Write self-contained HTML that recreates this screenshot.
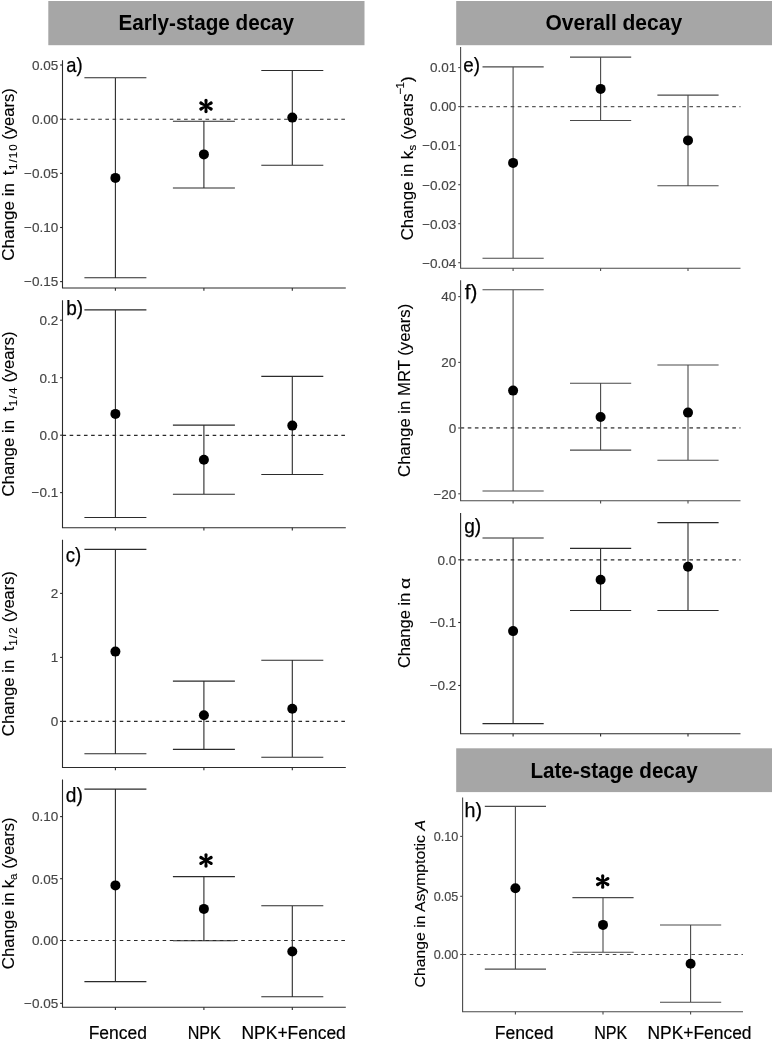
<!DOCTYPE html>
<html><head><meta charset="utf-8"><title>Figure</title>
<style>
html,body{margin:0;padding:0;background:#fff;}
body{width:773px;height:1041px;overflow:hidden;}
svg{display:block;font-family:"Liberation Sans",sans-serif;will-change:transform;}
.tk{font-size:12.6px;fill:#454545;stroke:#454545;stroke-width:0.15px;}
.pl{font-size:19.8px;fill:#000;stroke:#000;stroke-width:0.25px;}
.yt{fill:#000;stroke:#000;stroke-width:0.12px;}
.ast{font-size:30px;font-weight:bold;fill:#000;}
.hd{font-size:22.5px;font-weight:bold;fill:#000;}
.xl{font-size:17.5px;fill:#000;stroke:#000;stroke-width:0.2px;}
</style></head><body>
<svg width="773" height="1041" viewBox="0 0 773 1041">
<rect width="773" height="1041" fill="#fff"/>
<rect x="48.3" y="1" width="316.2" height="44.2" fill="#a6a6a6"/>
<rect x="456.2" y="1" width="315.8" height="44.2" fill="#a6a6a6"/>
<rect x="456.2" y="748.3" width="315.8" height="43.8" fill="#a6a6a6"/>
<text x="118.5" y="30.4" class="hd" textLength="175.6" lengthAdjust="spacingAndGlyphs">Early-stage decay</text>
<text x="545.5" y="30.4" class="hd" textLength="136.6" lengthAdjust="spacingAndGlyphs">Overall decay</text>
<text x="530.4" y="777.5" class="hd" textLength="167.4" lengthAdjust="spacingAndGlyphs">Late-stage decay</text>
<path d="M62.5 60.2V288H345.8" fill="none" stroke="#2b2b2b" stroke-width="1.1"/>
<path d="M60.1 65.0H62.5" stroke="#2b2b2b" stroke-width="1.1"/>
<text x="58.2" y="69.89" text-anchor="end" class="tk" style="font-size:13.5px">0.05</text>
<path d="M60.1 119.2H62.5" stroke="#2b2b2b" stroke-width="1.1"/>
<text x="58.2" y="124.09" text-anchor="end" class="tk" style="font-size:13.5px">0.00</text>
<path d="M60.1 173.4H62.5" stroke="#2b2b2b" stroke-width="1.1"/>
<text x="58.2" y="178.29" text-anchor="end" class="tk" style="font-size:13.5px">−0.05</text>
<path d="M60.1 227.5H62.5" stroke="#2b2b2b" stroke-width="1.1"/>
<text x="58.2" y="232.39" text-anchor="end" class="tk" style="font-size:13.5px">−0.10</text>
<path d="M60.1 281.6H62.5" stroke="#2b2b2b" stroke-width="1.1"/>
<text x="58.2" y="286.49" text-anchor="end" class="tk" style="font-size:13.5px">−0.15</text>
<path d="M115.4 288V290.8" stroke="#2b2b2b" stroke-width="1.1"/>
<path d="M203.9 288V290.8" stroke="#2b2b2b" stroke-width="1.1"/>
<path d="M292.3 288V290.8" stroke="#2b2b2b" stroke-width="1.1"/>
<path d="M62.5 119.2H345.8" stroke="#2b2b2b" stroke-width="1.15" stroke-dasharray="3.6 3.55"/>
<path d="M84.4 77.8H146.4M84.4 277.8H146.4M115.4 77.8V277.8" fill="none" stroke="#2b2b2b" stroke-width="1.1"/>
<circle cx="115.4" cy="177.9" r="5.0" fill="#000"/>
<path d="M172.9 121.2H234.9M172.9 188H234.9M203.9 121.2V188" fill="none" stroke="#2b2b2b" stroke-width="1.1"/>
<circle cx="203.9" cy="154.4" r="5.0" fill="#000"/>
<path d="M261.3 70.5H323.3M261.3 165.2H323.3M292.3 70.5V165.2" fill="none" stroke="#2b2b2b" stroke-width="1.1"/>
<circle cx="292.3" cy="117.6" r="5.0" fill="#000"/>
<text x="66.2" y="72.05" class="pl" textLength="16.3" lengthAdjust="spacingAndGlyphs">a)</text>
<path transform="translate(206.0 106.0)" d="M0.95 0.00L1.65 -5.60L-1.65 -5.60L-0.95 -0.00ZM1.65 -5.60A1.65 1.65 0 0 0 -1.65 -5.60ZM0.47 0.82L5.93 -1.52L4.28 -4.38L-0.47 -0.82ZM5.93 -1.52A1.65 1.65 0 0 0 4.28 -4.38ZM-0.47 0.82L4.28 4.38L5.93 1.52L0.47 -0.82ZM4.28 4.38A1.65 1.65 0 0 0 5.93 1.52ZM-0.95 0.00L-1.65 5.60L1.65 5.60L0.95 -0.00ZM-1.65 5.60A1.65 1.65 0 0 0 1.65 5.60ZM-0.47 -0.82L-5.93 1.52L-4.28 4.38L0.47 0.82ZM-5.93 1.52A1.65 1.65 0 0 0 -4.28 4.38ZM0.47 -0.82L-4.28 -4.38L-5.93 -1.52L-0.47 0.82ZM-4.28 -4.38A1.65 1.65 0 0 0 -5.93 -1.52Z" fill="#000"/>
<text transform="translate(13.7 260.8) scale(1.0 1) rotate(-90)" class="yt" style="font-size:16.9px" textLength="77.7" lengthAdjust="spacingAndGlyphs">Change in</text><text transform="translate(13.7 175.3) scale(1.0 1) rotate(-90)" class="yt" style="font-size:16.9px">t</text><text transform="translate(17.2 170.0) scale(1.0 1) rotate(-90)" class="yt" style="font-size:11.6px" textLength="25.8" lengthAdjust="spacing">1/10</text><text transform="translate(13.7 139.8) scale(1.0 1) rotate(-90)" class="yt" style="font-size:16.9px" textLength="51.5" lengthAdjust="spacingAndGlyphs">(years)</text>
<path d="M62.5 300.3V527.7H345.8" fill="none" stroke="#2b2b2b" stroke-width="1.1"/>
<path d="M60.1 320.2H62.5" stroke="#2b2b2b" stroke-width="1.1"/>
<text x="58.2" y="325.09" text-anchor="end" class="tk" style="font-size:13.5px">0.2</text>
<path d="M60.1 377.7H62.5" stroke="#2b2b2b" stroke-width="1.1"/>
<text x="58.2" y="382.59" text-anchor="end" class="tk" style="font-size:13.5px">0.1</text>
<path d="M60.1 435.2H62.5" stroke="#2b2b2b" stroke-width="1.1"/>
<text x="58.2" y="440.09" text-anchor="end" class="tk" style="font-size:13.5px">0.0</text>
<path d="M60.1 492.6H62.5" stroke="#2b2b2b" stroke-width="1.1"/>
<text x="58.2" y="497.49" text-anchor="end" class="tk" style="font-size:13.5px">−0.1</text>
<path d="M115.4 527.7V530.5" stroke="#2b2b2b" stroke-width="1.1"/>
<path d="M203.9 527.7V530.5" stroke="#2b2b2b" stroke-width="1.1"/>
<path d="M292.3 527.7V530.5" stroke="#2b2b2b" stroke-width="1.1"/>
<path d="M62.5 435.4H345.8" stroke="#2b2b2b" stroke-width="1.15" stroke-dasharray="3.6 3.55"/>
<path d="M84.4 309.9H146.4M84.4 517.5H146.4M115.4 309.9V517.5" fill="none" stroke="#2b2b2b" stroke-width="1.1"/>
<circle cx="115.4" cy="413.9" r="5.0" fill="#000"/>
<path d="M172.9 425.1H234.9M172.9 494.2H234.9M203.9 425.1V494.2" fill="none" stroke="#2b2b2b" stroke-width="1.1"/>
<circle cx="203.9" cy="459.7" r="5.0" fill="#000"/>
<path d="M261.3 376.4H323.3M261.3 474.5H323.3M292.3 376.4V474.5" fill="none" stroke="#2b2b2b" stroke-width="1.1"/>
<circle cx="292.3" cy="425.6" r="5.0" fill="#000"/>
<text x="66.3" y="314.7" class="pl" textLength="16.9" lengthAdjust="spacingAndGlyphs">b)</text>
<text transform="translate(13.7 496.6) scale(1.0 1) rotate(-90)" class="yt" style="font-size:16.9px" textLength="76.6" lengthAdjust="spacingAndGlyphs">Change in</text><text transform="translate(13.7 411.5) scale(1.0 1) rotate(-90)" class="yt" style="font-size:16.9px">t</text><text transform="translate(17.2 406.2) scale(1.0 1) rotate(-90)" class="yt" style="font-size:11.6px" textLength="18.6" lengthAdjust="spacing">1/4</text><text transform="translate(13.7 382.6) scale(1.0 1) rotate(-90)" class="yt" style="font-size:16.9px" textLength="51.1" lengthAdjust="spacingAndGlyphs">(years)</text>
<path d="M62.5 539.8V767.5H345.8" fill="none" stroke="#2b2b2b" stroke-width="1.1"/>
<path d="M60.1 593.4H62.5" stroke="#2b2b2b" stroke-width="1.1"/>
<text x="58.2" y="598.29" text-anchor="end" class="tk" style="font-size:13.5px">2</text>
<path d="M60.1 657.4H62.5" stroke="#2b2b2b" stroke-width="1.1"/>
<text x="58.2" y="662.29" text-anchor="end" class="tk" style="font-size:13.5px">1</text>
<path d="M60.1 721.4H62.5" stroke="#2b2b2b" stroke-width="1.1"/>
<text x="58.2" y="726.29" text-anchor="end" class="tk" style="font-size:13.5px">0</text>
<path d="M115.4 767.5V770.3" stroke="#2b2b2b" stroke-width="1.1"/>
<path d="M203.9 767.5V770.3" stroke="#2b2b2b" stroke-width="1.1"/>
<path d="M292.3 767.5V770.3" stroke="#2b2b2b" stroke-width="1.1"/>
<path d="M62.5 721.4H345.8" stroke="#2b2b2b" stroke-width="1.15" stroke-dasharray="3.6 3.55"/>
<path d="M84.4 549.4H146.4M84.4 753.8H146.4M115.4 549.4V753.8" fill="none" stroke="#2b2b2b" stroke-width="1.1"/>
<circle cx="115.4" cy="651.6" r="5.0" fill="#000"/>
<path d="M172.9 681.1H234.9M172.9 749.4H234.9M203.9 681.1V749.4" fill="none" stroke="#2b2b2b" stroke-width="1.1"/>
<circle cx="203.9" cy="715.3" r="5.0" fill="#000"/>
<path d="M261.3 660.2H323.3M261.3 757.2H323.3M292.3 660.2V757.2" fill="none" stroke="#2b2b2b" stroke-width="1.1"/>
<circle cx="292.3" cy="708.8" r="5.0" fill="#000"/>
<text x="65.8" y="561.5" class="pl" textLength="15.4" lengthAdjust="spacingAndGlyphs">c)</text>
<text transform="translate(13.7 736.2) scale(1.0 1) rotate(-90)" class="yt" style="font-size:16.9px" textLength="76.6" lengthAdjust="spacingAndGlyphs">Change in</text><text transform="translate(13.7 651.1) scale(1.0 1) rotate(-90)" class="yt" style="font-size:16.9px">t</text><text transform="translate(17.2 645.8) scale(1.0 1) rotate(-90)" class="yt" style="font-size:11.6px" textLength="18.6" lengthAdjust="spacing">1/2</text><text transform="translate(13.7 622.2) scale(1.0 1) rotate(-90)" class="yt" style="font-size:16.9px" textLength="51.0" lengthAdjust="spacingAndGlyphs">(years)</text>
<path d="M62.5 779.6V1007.3H345.8" fill="none" stroke="#2b2b2b" stroke-width="1.1"/>
<path d="M60.1 816.6H62.5" stroke="#2b2b2b" stroke-width="1.1"/>
<text x="58.2" y="821.49" text-anchor="end" class="tk" style="font-size:13.5px">0.10</text>
<path d="M60.1 878.7H62.5" stroke="#2b2b2b" stroke-width="1.1"/>
<text x="58.2" y="883.59" text-anchor="end" class="tk" style="font-size:13.5px">0.05</text>
<path d="M60.1 940.5H62.5" stroke="#2b2b2b" stroke-width="1.1"/>
<text x="58.2" y="945.39" text-anchor="end" class="tk" style="font-size:13.5px">0.00</text>
<path d="M60.1 1003.3H62.5" stroke="#2b2b2b" stroke-width="1.1"/>
<text x="58.2" y="1008.19" text-anchor="end" class="tk" style="font-size:13.5px">−0.05</text>
<path d="M115.4 1007.3V1010.0999999999999" stroke="#2b2b2b" stroke-width="1.1"/>
<path d="M203.9 1007.3V1010.0999999999999" stroke="#2b2b2b" stroke-width="1.1"/>
<path d="M292.3 1007.3V1010.0999999999999" stroke="#2b2b2b" stroke-width="1.1"/>
<path d="M62.5 940.5H345.8" stroke="#2b2b2b" stroke-width="1.15" stroke-dasharray="3.6 3.55"/>
<path d="M84.4 789.1H146.4M84.4 981.6H146.4M115.4 789.1V981.6" fill="none" stroke="#2b2b2b" stroke-width="1.1"/>
<circle cx="115.4" cy="885.4" r="5.0" fill="#000"/>
<path d="M172.9 876.6H234.9M172.9 940.7H234.9M203.9 876.6V940.7" fill="none" stroke="#2b2b2b" stroke-width="1.1"/>
<circle cx="203.9" cy="908.9" r="5.0" fill="#000"/>
<path d="M261.3 905.7H323.3M261.3 996.8H323.3M292.3 905.7V996.8" fill="none" stroke="#2b2b2b" stroke-width="1.1"/>
<circle cx="292.3" cy="951.5" r="5.0" fill="#000"/>
<text x="65.8" y="801.8" class="pl" textLength="17.0" lengthAdjust="spacingAndGlyphs">d)</text>
<path transform="translate(206.0 860.4)" d="M0.95 0.00L1.65 -5.60L-1.65 -5.60L-0.95 -0.00ZM1.65 -5.60A1.65 1.65 0 0 0 -1.65 -5.60ZM0.47 0.82L5.93 -1.52L4.28 -4.38L-0.47 -0.82ZM5.93 -1.52A1.65 1.65 0 0 0 4.28 -4.38ZM-0.47 0.82L4.28 4.38L5.93 1.52L0.47 -0.82ZM4.28 4.38A1.65 1.65 0 0 0 5.93 1.52ZM-0.95 0.00L-1.65 5.60L1.65 5.60L0.95 -0.00ZM-1.65 5.60A1.65 1.65 0 0 0 1.65 5.60ZM-0.47 -0.82L-5.93 1.52L-4.28 4.38L0.47 0.82ZM-5.93 1.52A1.65 1.65 0 0 0 -4.28 4.38ZM0.47 -0.82L-4.28 -4.38L-5.93 -1.52L-0.47 0.82ZM-4.28 -4.38A1.65 1.65 0 0 0 -5.93 -1.52Z" fill="#000"/>
<text transform="translate(13.7 969.2) scale(1.0 1) rotate(-90)" class="yt" style="font-size:16.9px" textLength="76.9" lengthAdjust="spacingAndGlyphs">Change in</text><text transform="translate(13.7 888.2) scale(1.0 1) rotate(-90)" class="yt" style="font-size:16.9px">k</text><text transform="translate(17.3 879.9) scale(1.0 1) rotate(-90)" class="yt" style="font-size:11.6px">a</text><text transform="translate(13.7 868.8) scale(1.0 1) rotate(-90)" class="yt" style="font-size:16.9px" textLength="51.2" lengthAdjust="spacingAndGlyphs">(years)</text>
<path d="M460.6 47V268.3H740.5" fill="none" stroke="#4a4a4a" stroke-width="1.1"/>
<path d="M458.20000000000005 67.6H460.6" stroke="#4a4a4a" stroke-width="1.1"/>
<text x="456.3" y="72.49" text-anchor="end" class="tk" style="font-size:13.5px">0.01</text>
<path d="M458.20000000000005 106.6H460.6" stroke="#4a4a4a" stroke-width="1.1"/>
<text x="456.3" y="111.49" text-anchor="end" class="tk" style="font-size:13.5px">0.00</text>
<path d="M458.20000000000005 145.6H460.6" stroke="#4a4a4a" stroke-width="1.1"/>
<text x="456.3" y="150.49" text-anchor="end" class="tk" style="font-size:13.5px">−0.01</text>
<path d="M458.20000000000005 184.7H460.6" stroke="#4a4a4a" stroke-width="1.1"/>
<text x="456.3" y="189.59" text-anchor="end" class="tk" style="font-size:13.5px">−0.02</text>
<path d="M458.20000000000005 223.7H460.6" stroke="#4a4a4a" stroke-width="1.1"/>
<text x="456.3" y="228.59" text-anchor="end" class="tk" style="font-size:13.5px">−0.03</text>
<path d="M458.20000000000005 262.7H460.6" stroke="#4a4a4a" stroke-width="1.1"/>
<text x="456.3" y="267.59" text-anchor="end" class="tk" style="font-size:13.5px">−0.04</text>
<path d="M513.1 268.3V271.1" stroke="#4a4a4a" stroke-width="1.1"/>
<path d="M600.6 268.3V271.1" stroke="#4a4a4a" stroke-width="1.1"/>
<path d="M688.0 268.3V271.1" stroke="#4a4a4a" stroke-width="1.1"/>
<path d="M460.6 106.65H740.5" stroke="#5a5a5a" stroke-width="1.4" stroke-dasharray="3.6 3.55"/>
<path d="M482.5 66.9H543.7M482.5 258.2H543.7M513.1 66.9V258.2" fill="none" stroke="#4a4a4a" stroke-width="1.1"/>
<circle cx="513.1" cy="162.9" r="5.0" fill="#000"/>
<path d="M570.0 57.1H631.2M570.0 120.5H631.2M600.6 57.1V120.5" fill="none" stroke="#4a4a4a" stroke-width="1.1"/>
<circle cx="600.6" cy="88.9" r="5.0" fill="#000"/>
<path d="M657.4 95.1H718.6M657.4 185.7H718.6M688.0 95.1V185.7" fill="none" stroke="#4a4a4a" stroke-width="1.1"/>
<circle cx="688.0" cy="140.4" r="5.0" fill="#000"/>
<text x="463.2" y="72.2" class="pl" textLength="16.7" lengthAdjust="spacingAndGlyphs">e)</text>
<text transform="translate(412.8 240.3) scale(1.0 1) rotate(-90)" class="yt" style="font-size:16.9px" textLength="76.6" lengthAdjust="spacingAndGlyphs">Change in</text><text transform="translate(412.8 159.3) scale(1.0 1) rotate(-90)" class="yt" style="font-size:16.9px">k</text><text transform="translate(416.2 150.4) scale(1.0 1) rotate(-90)" class="yt" style="font-size:11.6px">s</text><text transform="translate(412.8 139.8) scale(1.0 1) rotate(-90)" class="yt" style="font-size:16.9px" textLength="46.4" lengthAdjust="spacingAndGlyphs">(years</text><text transform="translate(404.4 94.4) scale(1.0 1) rotate(-90)" class="yt" style="font-size:11.6px" textLength="12.4" lengthAdjust="spacing">−1</text><text transform="translate(412.8 81.9) scale(1.0 1) rotate(-90)" class="yt" style="font-size:16.9px">)</text>
<path d="M460.6 280.3V500.8H740.5" fill="none" stroke="#4a4a4a" stroke-width="1.1"/>
<path d="M458.20000000000005 296.6H460.6" stroke="#4a4a4a" stroke-width="1.1"/>
<text x="456.3" y="301.49" text-anchor="end" class="tk" style="font-size:13.5px">40</text>
<path d="M458.20000000000005 362.4H460.6" stroke="#4a4a4a" stroke-width="1.1"/>
<text x="456.3" y="367.29" text-anchor="end" class="tk" style="font-size:13.5px">20</text>
<path d="M458.20000000000005 428H460.6" stroke="#4a4a4a" stroke-width="1.1"/>
<text x="456.3" y="432.89" text-anchor="end" class="tk" style="font-size:13.5px">0</text>
<path d="M458.20000000000005 493.8H460.6" stroke="#4a4a4a" stroke-width="1.1"/>
<text x="456.3" y="498.69" text-anchor="end" class="tk" style="font-size:13.5px">−20</text>
<path d="M513.1 500.8V503.6" stroke="#4a4a4a" stroke-width="1.1"/>
<path d="M600.6 500.8V503.6" stroke="#4a4a4a" stroke-width="1.1"/>
<path d="M688.0 500.8V503.6" stroke="#4a4a4a" stroke-width="1.1"/>
<path d="M460.6 427.9H740.5" stroke="#6a6a6a" stroke-width="1.6" stroke-dasharray="3.6 3.55"/>
<path d="M482.5 289.7H543.7M482.5 491H543.7M513.1 289.7V491" fill="none" stroke="#4a4a4a" stroke-width="1.1"/>
<circle cx="513.1" cy="390.6" r="5.0" fill="#000"/>
<path d="M570.0 383.2H631.2M570.0 450.1H631.2M600.6 383.2V450.1" fill="none" stroke="#4a4a4a" stroke-width="1.1"/>
<circle cx="600.6" cy="417" r="5.0" fill="#000"/>
<path d="M657.4 365H718.6M657.4 460.2H718.6M688.0 365V460.2" fill="none" stroke="#4a4a4a" stroke-width="1.1"/>
<circle cx="688.0" cy="412.6" r="5.0" fill="#000"/>
<text x="464.7" y="299.3" class="pl" textLength="12.6" lengthAdjust="spacingAndGlyphs">f)</text>
<text transform="translate(410.4 476.9) scale(1.0 1) rotate(-90)" class="yt" style="font-size:16.9px" textLength="173.2" lengthAdjust="spacingAndGlyphs">Change in MRT (years)</text>
<path d="M460.6 513V733.8H740.5" fill="none" stroke="#2b2b2b" stroke-width="1.1"/>
<path d="M458.20000000000005 559.8H460.6" stroke="#2b2b2b" stroke-width="1.1"/>
<text x="456.3" y="564.69" text-anchor="end" class="tk" style="font-size:13.5px">0.0</text>
<path d="M458.20000000000005 622.5H460.6" stroke="#2b2b2b" stroke-width="1.1"/>
<text x="456.3" y="627.39" text-anchor="end" class="tk" style="font-size:13.5px">−0.1</text>
<path d="M458.20000000000005 685.5H460.6" stroke="#2b2b2b" stroke-width="1.1"/>
<text x="456.3" y="690.39" text-anchor="end" class="tk" style="font-size:13.5px">−0.2</text>
<path d="M513.1 733.8V736.5999999999999" stroke="#2b2b2b" stroke-width="1.1"/>
<path d="M600.6 733.8V736.5999999999999" stroke="#2b2b2b" stroke-width="1.1"/>
<path d="M688.0 733.8V736.5999999999999" stroke="#2b2b2b" stroke-width="1.1"/>
<path d="M460.6 559.8H740.5" stroke="#2b2b2b" stroke-width="1.15" stroke-dasharray="3.6 3.55"/>
<path d="M482.5 538H543.7M482.5 723.6H543.7M513.1 538V723.6" fill="none" stroke="#2b2b2b" stroke-width="1.1"/>
<circle cx="513.1" cy="631.1" r="5.0" fill="#000"/>
<path d="M570.0 548.4H631.2M570.0 610.5H631.2M600.6 548.4V610.5" fill="none" stroke="#2b2b2b" stroke-width="1.1"/>
<circle cx="600.6" cy="579.7" r="5.0" fill="#000"/>
<path d="M657.4 522.6H718.6M657.4 610.5H718.6M688.0 522.6V610.5" fill="none" stroke="#2b2b2b" stroke-width="1.1"/>
<circle cx="688.0" cy="566.8" r="5.0" fill="#000"/>
<text x="464.2" y="533.3" class="pl" textLength="17.0" lengthAdjust="spacingAndGlyphs">g)</text>
<text transform="translate(410.4 668.1) scale(1.0 1) rotate(-90)" class="yt" style="font-size:16.9px" textLength="75.4" lengthAdjust="spacingAndGlyphs">Change in</text><text transform="translate(410.4 588.9) scale(1.0 1) rotate(-90)" class="yt" style="font-size:15px" textLength="11.3" lengthAdjust="spacingAndGlyphs">α</text>
<path d="M462.6 797.5V1011.7H743" fill="none" stroke="#4a4a4a" stroke-width="1.1"/>
<path d="M460.20000000000005 836.4H462.6" stroke="#4a4a4a" stroke-width="1.1"/>
<text x="458.3" y="840.96" text-anchor="end" class="tk" style="font-size:12.6px">0.10</text>
<path d="M460.20000000000005 896.3H462.6" stroke="#4a4a4a" stroke-width="1.1"/>
<text x="458.3" y="900.86" text-anchor="end" class="tk" style="font-size:12.6px">0.05</text>
<path d="M460.20000000000005 954.5H462.6" stroke="#4a4a4a" stroke-width="1.1"/>
<text x="458.3" y="959.06" text-anchor="end" class="tk" style="font-size:12.6px">0.00</text>
<path d="M515.4 1011.7V1014.5" stroke="#4a4a4a" stroke-width="1.1"/>
<path d="M603 1011.7V1014.5" stroke="#4a4a4a" stroke-width="1.1"/>
<path d="M690.6 1011.7V1014.5" stroke="#4a4a4a" stroke-width="1.1"/>
<path d="M462.6 954.5H743" stroke="#4a4a4a" stroke-width="1.15" stroke-dasharray="3.6 3.55"/>
<path d="M484.79999999999995 806.4H546.0M484.79999999999995 969.1H546.0M515.4 806.4V969.1" fill="none" stroke="#4a4a4a" stroke-width="1.1"/>
<circle cx="515.4" cy="888.2" r="5.0" fill="#000"/>
<path d="M572.4 897.6H633.6M572.4 952.2H633.6M603 897.6V952.2" fill="none" stroke="#4a4a4a" stroke-width="1.1"/>
<circle cx="603" cy="924.9" r="5.0" fill="#000"/>
<path d="M660.0 925H721.2M660.0 1002.3H721.2M690.6 925V1002.3" fill="none" stroke="#4a4a4a" stroke-width="1.1"/>
<circle cx="690.6" cy="963.7" r="5.0" fill="#000"/>
<text x="464.6" y="816.5" class="pl" textLength="17.5" lengthAdjust="spacingAndGlyphs">h)</text>
<path transform="translate(602.7 881.6)" d="M0.95 0.00L1.65 -5.60L-1.65 -5.60L-0.95 -0.00ZM1.65 -5.60A1.65 1.65 0 0 0 -1.65 -5.60ZM0.47 0.82L5.93 -1.52L4.28 -4.38L-0.47 -0.82ZM5.93 -1.52A1.65 1.65 0 0 0 4.28 -4.38ZM-0.47 0.82L4.28 4.38L5.93 1.52L0.47 -0.82ZM4.28 4.38A1.65 1.65 0 0 0 5.93 1.52ZM-0.95 0.00L-1.65 5.60L1.65 5.60L0.95 -0.00ZM-1.65 5.60A1.65 1.65 0 0 0 1.65 5.60ZM-0.47 -0.82L-5.93 1.52L-4.28 4.38L0.47 0.82ZM-5.93 1.52A1.65 1.65 0 0 0 -4.28 4.38ZM0.47 -0.82L-4.28 -4.38L-5.93 -1.52L-0.47 0.82ZM-4.28 -4.38A1.65 1.65 0 0 0 -5.93 -1.52Z" fill="#000"/>
<text transform="translate(424.9 987.4) scale(1.0 1) rotate(-90)" class="yt" style="font-size:14.6px" textLength="167.3" lengthAdjust="spacingAndGlyphs">Change in Asymptotic <tspan font-style="italic">A</tspan></text>
<text x="88.7" y="1039" class="xl" textLength="58.3" lengthAdjust="spacingAndGlyphs">Fenced</text>
<text x="187.7" y="1038.8" class="xl" textLength="33.1" lengthAdjust="spacingAndGlyphs">NPK</text>
<text x="241.5" y="1038.8" class="xl" textLength="104.3" lengthAdjust="spacingAndGlyphs">NPK+Fenced</text>
<text x="494.8" y="1038.6" class="xl" textLength="58.7" lengthAdjust="spacingAndGlyphs">Fenced</text>
<text x="594.2" y="1038.6" class="xl" textLength="33.1" lengthAdjust="spacingAndGlyphs">NPK</text>
<text x="647.5" y="1038.6" class="xl" textLength="104.0" lengthAdjust="spacingAndGlyphs">NPK+Fenced</text>
</svg></body></html>
